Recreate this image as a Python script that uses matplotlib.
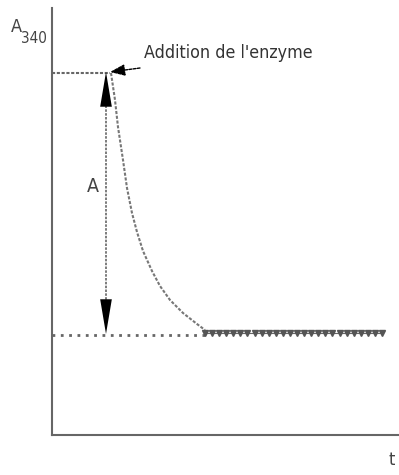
import matplotlib
matplotlib.use('Agg')
import matplotlib.pyplot as plt
import numpy as np

plt.rcParams['font.family'] = ['DejaVu Sans']

# absorbance curve after enzyme addition (arbitrary units)
t_curve = [59, 63, 66, 71, 75, 80, 85, 91, 100, 108, 118, 131, 145, 153]
a_curve = [362, 335, 308, 275, 247, 222, 203, 184, 164, 149, 135, 122, 111, 105]

a_start = 362     # level before enzyme
a_end = 100       # final level
t_add = 58        # time of addition
t_plateau = [153, 330]
t_delta = 54      # where the A double arrow is drawn

label_y = 'A'
label_y_sub = '340'
label_x = 't'
label_add = "Addition de l'enzyme"
label_delta = 'A'

grey = '#666666'

fig = plt.figure(figsize=(3.99, 4.75), dpi=100)
ax = fig.add_axes([0, 0, 1, 1])
ax.set_xlim(-52, 347)
ax.set_ylim(-40, 435)

for s in ['top', 'right']:
    ax.spines[s].set_visible(False)
ax.spines['left'].set_position(('data', 0))
ax.spines['bottom'].set_position(('data', 0))
ax.spines['left'].set_bounds(0, 427)
ax.spines['bottom'].set_bounds(0, 347)
for s in ['left', 'bottom']:
    ax.spines[s].set_color(grey)
    ax.spines[s].set_linewidth(1.5)
ax.set_xticks([])
ax.set_yticks([])

# start level
ax.plot([0, t_add], [a_start, a_start], color=grey, lw=1.5, ls=(0, (1.5, 0.8)))
# final level, dotted
ax.plot([0, t_plateau[0]], [a_end, a_end], color=grey, lw=2, ls=(0, (1, 2)))

# decay
ax.plot(t_curve, a_curve, color='#777777', lw=1.5, ls=(0, (1.5, 0.8)))

# plateau with v marks
tp = np.linspace(t_plateau[0], t_plateau[1], 26)
ax.plot(tp, np.full(len(tp), a_end + 2), color=grey, lw=0.8, marker='v',
        ms=4.5, mfc='#555555', mec='#555555')

# double arrow for A
ax.plot([t_delta, t_delta], [a_end + 20, a_start - 20], color=grey, lw=1.2, ls=(0, (1.5, 0.8)))
for y0, y1 in [(a_start - 40, a_start + 1), (a_end + 40, a_end + 1)]:
    ax.annotate('', xy=(t_delta, y1), xytext=(t_delta, y0),
                arrowprops=dict(arrowstyle='-|>,head_length=2.5,head_width=0.42',
                                color='black', lw=0, shrinkA=0, shrinkB=0))
ax.text(t_delta - 13, 248, label_delta, fontsize=14, color='#444444',
        ha='center', va='center', fontstretch='condensed')

# enzyme addition arrow
ax.annotate('', xy=(t_add, a_start + 1), xytext=(88, 367),
            arrowprops=dict(arrowstyle='-|>,head_length=0.9,head_width=0.35',
                            color='black', lw=1, ls=(0, (2, 1)),
                            shrinkA=0, shrinkB=0))
ax.text(92, 382, label_add, fontsize=12.8, color='#333333',
        ha='left', va='center', fontstretch='condensed')

# axis labels
ax.text(-41, 403, label_y, fontsize=13, color='#444444', ha='left', va='baseline',
        fontstretch='condensed')
ax.text(-31, 392, label_y_sub, fontsize=11, color='#444444', ha='left', va='baseline',
        fontstretch='condensed')
ax.text(340, -25, label_x, fontsize=13, color='#444444', ha='center', va='center',
        fontstretch='condensed')

fig.savefig('out.png', dpi=100)
